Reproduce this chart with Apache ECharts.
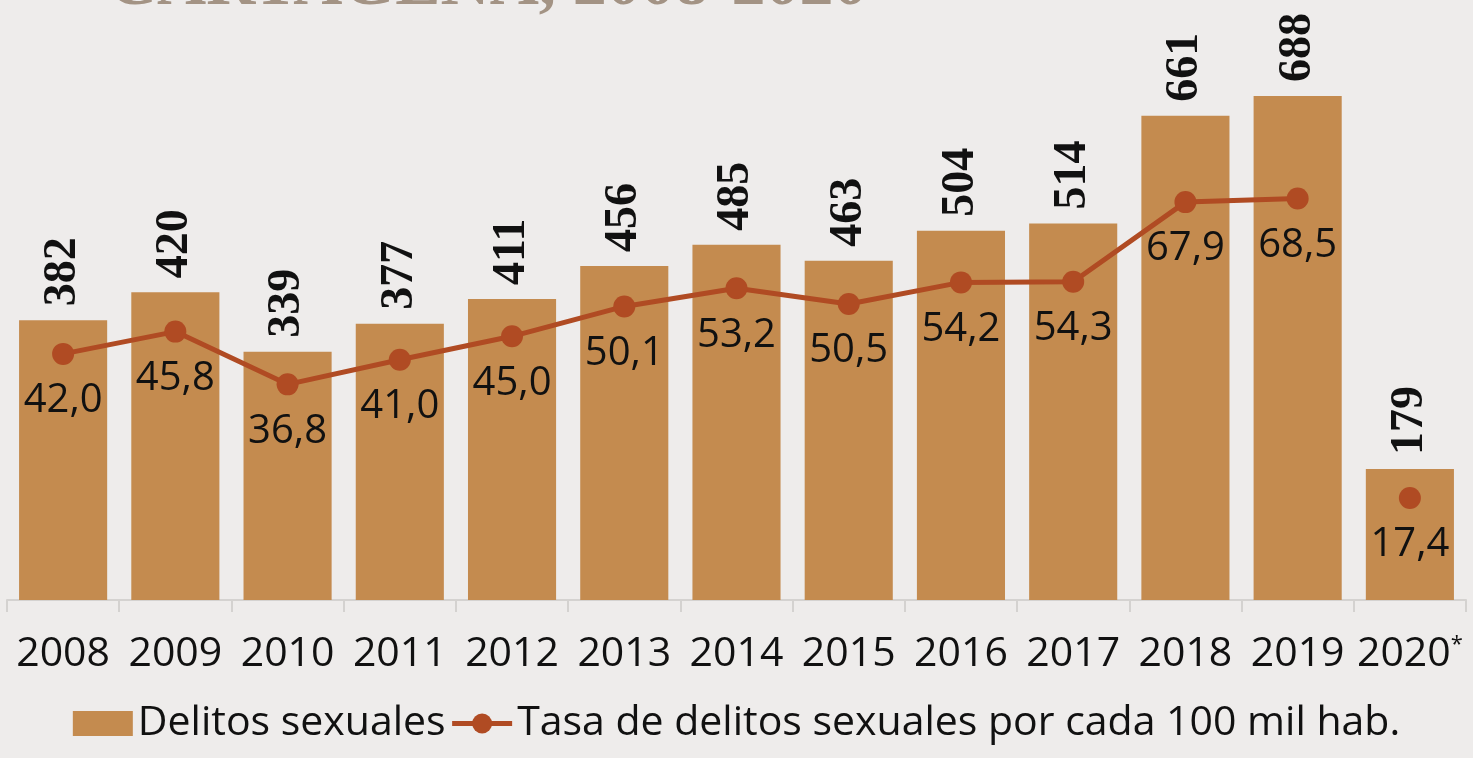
<!DOCTYPE html>
<html>
<head>
<meta charset="utf-8">
<script src="https://cdn.jsdelivr.net/npm/echarts@6/dist/echarts.min.js"></script>
<style>
  html, body { margin: 0; padding: 0; background: #eeeceb; }
  #chart { width: 1473px; height: 758px; }
</style>
</head>
<body>
<div id="chart"></div>
<script>
// Años (2020 con dato parcial)
const years = ['2008', '2009', '2010', '2011', '2012', '2013', '2014', '2015', '2016', '2017', '2018', '2019', '2020'];
// Número de delitos sexuales denunciados
const delitos = [382, 420, 339, 377, 411, 456, 485, 463, 504, 514, 661, 688, 179];
// Tasa por cada 100 mil habitantes
const tasa = [42.0, 45.8, 36.8, 41.0, 45.0, 50.1, 53.2, 50.5, 54.2, 54.3, 67.9, 68.5, 17.4];

const BAR_NAME = 'Delitos sexuales';
const LINE_NAME = 'Tasa de delitos sexuales por cada 100 mil hab.';
const BAR_COLOR = '#c48b4f';
const LINE_COLOR = '#b04b23';
const SANS = '"Open Sans", Lato, sans-serif';

// 2020 va sin unir a la serie anterior
const tasaSerie = tasa.map((v, i) => (i < years.length - 1 ? v : null));
const tasaParcial = tasa.map((v, i) => (i === years.length - 1 ? v : null));
const fmtTasa = p => p.value == null ? '' : p.value.toFixed(1).replace('.', ',');

const lineLabel = {
  show: true,
  position: 'bottom',
  distance: 16,
  color: '#111',
  fontFamily: SANS,
  fontSize: 40,
  formatter: fmtTasa
};

const chart = echarts.init(document.getElementById('chart'));
chart.setOption({
  backgroundColor: '#eeeceb',
  animation: false,
  title: {
    text: 'CARTAGENA, 2008-2020',
    left: 103,
    top: -53,
    textStyle: {
      fontFamily: '"Liberation Serif", serif',
      fontWeight: 'bold',
      fontSize: 68,
      color: '#a39384'
    }
  },
  grid: { left: 7, right: 7, top: 14, bottom: 158 },
  legend: {
    bottom: 9,
    left: 'center',
    itemGap: 4,
    itemWidth: 60,
    itemHeight: 25,
    textStyle: { fontFamily: SANS, fontSize: 41, color: '#111' },
    data: [
      { name: BAR_NAME, icon: 'rect' },
      { name: LINE_NAME, lineStyle: { width: 5 } }
    ]
  },
  xAxis: {
    type: 'category',
    data: years,
    boundaryGap: true,
    axisLine: { lineStyle: { color: '#d4d2d0', width: 2 } },
    axisTick: { show: true, interval: 0, length: 12, lineStyle: { color: '#d4d2d0', width: 2 } },
    axisLabel: {
      interval: 0,
      margin: 34,
      color: '#111',
      fontFamily: SANS,
      fontSize: 41,
      formatter: v => (v === '2020' ? '2020{sup|*}' : v),
      rich: {
        sup: { fontSize: 22, color: '#111', fontFamily: SANS, verticalAlign: 'top', padding: [0, 0, 12, 0] }
      }
    }
  },
  yAxis: [
    { type: 'value', min: 0, max: 800, show: false, splitLine: { show: false } },
    { type: 'value', min: 0, max: 100, show: false, splitLine: { show: false } }
  ],
  series: [
    {
      name: BAR_NAME,
      type: 'bar',
      data: delitos,
      barCategoryGap: '21.5%',
      itemStyle: { color: BAR_COLOR },
      label: {
        show: true,
        position: 'top',
        rotate: 90,
        align: 'left',
        verticalAlign: 'middle',
        distance: 14,
        color: '#111',
        fontFamily: '"Liberation Serif", serif',
        fontWeight: 'bold',
        fontSize: 46
      }
    },
    {
      name: LINE_NAME,
      type: 'line',
      yAxisIndex: 1,
      data: tasaSerie,
      symbol: 'circle',
      symbolSize: 22,
      lineStyle: { color: LINE_COLOR, width: 5 },
      itemStyle: { color: LINE_COLOR },
      label: lineLabel
    },
    {
      name: LINE_NAME,
      type: 'line',
      yAxisIndex: 1,
      data: tasaParcial,
      symbol: 'circle',
      symbolSize: 22,
      lineStyle: { color: LINE_COLOR, width: 5 },
      itemStyle: { color: LINE_COLOR },
      label: lineLabel
    }
  ]
});
</script>
</body>
</html>
